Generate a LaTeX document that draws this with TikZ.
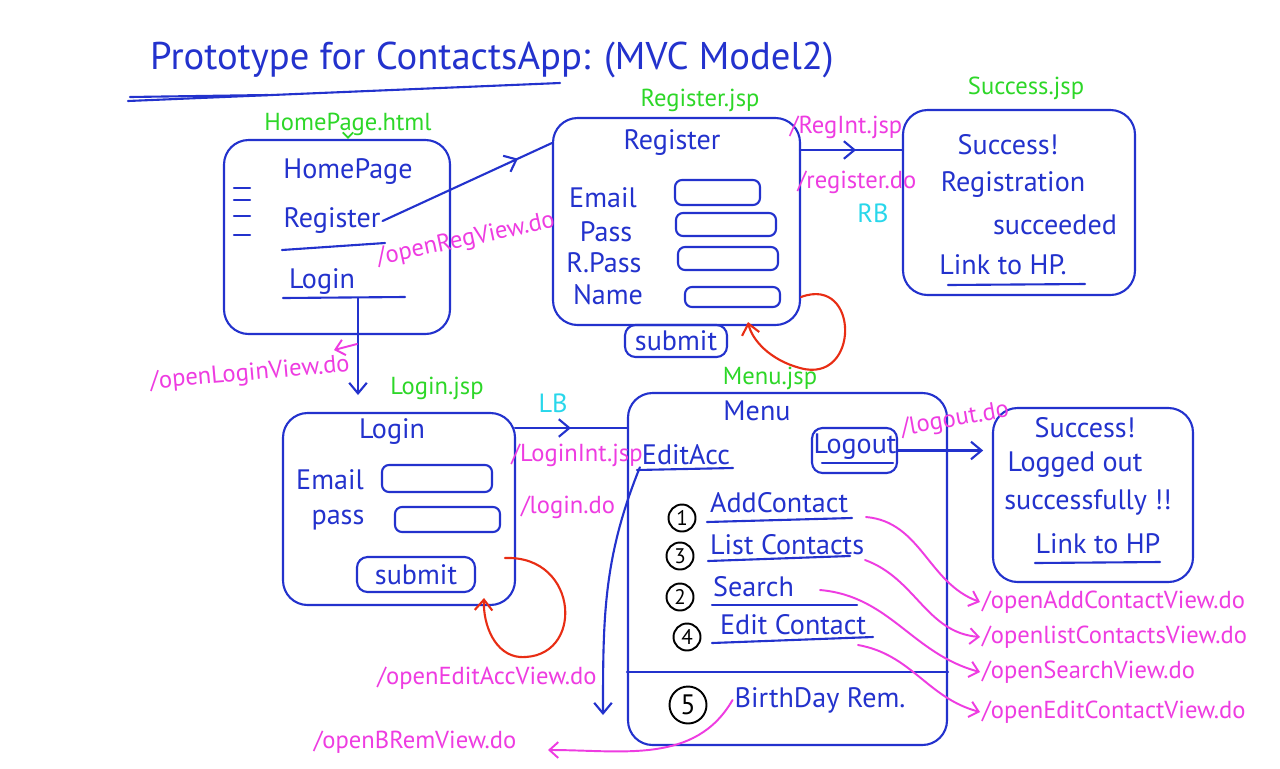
\documentclass[tikz,border=0pt]{standalone}
\usepackage{fontspec}
\setmainfont{PT Sans}
\usetikzlibrary{arrows.meta,decorations.markings,fit}

\definecolor{inkblue}{RGB}{35,50,205}
\definecolor{inkgreen}{RGB}{45,215,40}
\definecolor{inkpink}{RGB}{238,60,225}
\definecolor{inkcyan}{RGB}{40,215,235}
\definecolor{inkred}{RGB}{232,45,20}

\begin{document}
\begin{tikzpicture}[
        x=0.02cm, y=-0.02cm,
        line cap=round, line join=round,
        pen/.style={draw=inkblue, line width=1.2pt},
        page/.style={pen, rounded corners=14pt, inner sep=0pt},
        field/.style={pen, rounded corners=4pt, inner sep=0pt},
        btn/.style={pen, rounded corners=6pt, inner sep=0pt},
        hand/.style={text=inkblue, font=\fontsize{16}{19}\selectfont, inner sep=1pt},
        jsp/.style={text=inkgreen, font=\fontsize{14}{17}\selectfont, inner sep=1pt},
        url/.style={text=inkpink, font=\fontsize{14}{17}\selectfont, inner sep=1pt},
        bean/.style={text=inkcyan, font=\fontsize{15}{18}\selectfont, inner sep=1pt},
        num/.style={circle, draw=black, line width=1.1pt, text=black,
          font=\fontsize{12}{14}\selectfont, inner sep=0pt, minimum size=0.54cm},
        link/.style={pen, -{Straight Barb[length=6pt,width=10pt]}},
        sweep/.style={draw=inkpink, line width=1.1pt, -{Straight Barb[length=5pt,width=9pt]}},
        loop/.style={draw=inkred, line width=1.2pt, -{Straight Barb[length=6pt,width=10pt]}},
        midlink/.style={pen, postaction={decorate},
          decoration={markings,
            mark=at position #1 with {\arrow{Straight Barb[length=6pt,width=10pt]}}}},
        midlink/.default=0.6]
        % 画布
        \useasboundingbox[fill=white] (0,0) rectangle (1280,768);
        % 标题
        \node[hand, font=\fontsize{22}{26}\selectfont] (title) at (492,60)
          {Prototype for ContactsApp: (MVC Model2)};
        \draw[pen] (128,101) -- (560,83);
        \draw[pen] (130,97) -- (268,95);
        % 首页 HomePage.html
        \node[page, fit={(224,140) (450,334)}] (home) {};
        \node[jsp] (homefile) at (348,124) {HomePage.html};
        \draw[draw=inkgreen, line width=1pt, -{Straight Barb[length=3pt]}]
          (homefile.south) -- (home.north -| homefile.south);
        \node[hand] (hometitle) at (348,172) {HomePage};
        \foreach \y in {188,200,216,235}
          \draw[pen] (234,\y) -- (250,\y);
        \node[hand] (reglink) at (332,221) {Register};
        \draw[pen] (282,250) -- (385,243);
        \node[hand] (loginlink) at (322,282) {Login};
        \draw[pen] (283,298) -- (405,297);
        \coordinate (loginfoot) at (358,298);
        % 注册页 Register.jsp
        \node[page, fit={(553,118) (800,325)}] (regbox) {};
        \node[jsp] (regfile) at (700,100) {Register.jsp};
        \node[hand] (regtitle) at (672,143) {Register};
        \node[hand] (regemail) at (603,198) {Email};
        \node[field, fit={(675,180) (760,205)}] (regemailf) {};
        \node[hand] (regpass) at (606,232) {Pass};
        \node[field, fit={(676,213) (776,236)}] (regpassf) {};
        \node[hand] (regrpass) at (604,263) {R.Pass};
        \node[field, fit={(678,247) (778,270)}] (regrpassf) {};
        \node[hand] (regname) at (608,295) {Name};
        \node[field, fit={(685,287) (780,307)}] (regnamef) {};
        \node[btn, fit={(625,325) (727,357)}] (regsubmit) {};
        \node[hand] (regsubmittxt) at (regsubmit) {submit};
        % 成功页 Success.jsp
        \node[page, fit={(903,110) (1135,295)}] (okreg) {};
        \node[jsp] (okregfile) at (1026,88) {Success.jsp};
        \node[hand] (okregtitle) at (1008,145) {Success!};
        \node[hand] (okregmsg) at (1013,185) {Registration};
        \node[hand] (okregmsgb) at (1055,225) {succeeded};
        \node[hand] (okreghp) at (1003,265) {Link to HP.};
        \draw[pen] (948,285) -- (1085,284);
        % 首页 -> 注册页
        \draw[midlink=0.8] (reglink.east) -- (regtitle.west -| regbox.west);
        \node[url, rotate=12] (openreg) at (466,240) {/openRegView.do};
        % 注册页 -> 成功页
        \coordinate (regout) at (800,150);
        \draw[midlink=0.55] (regout) -- (regout -| okreg.west);
        \node[url] (regint) at (846,127) {/RegInt.jsp};
        \node[url] (regdo) at (857,182) {/register.do};
        \node[bean] (rb) at (873,213) {RB};
        \coordinate (regback) at (748,322);
        \draw[loop] (regbox.east |- regnamef) .. controls (860,275) and (860,385) .. (800,368)
          .. controls (770,360) and (752,340) .. (regback);
        % 登录页 Login.jsp
        \node[page, fit={(283,413) (515,605)}] (loginbox) {};
        \node[jsp] (loginfile) at (437,388) {Login.jsp};
        \node[hand] (logintitle) at (392,432) {Login};
        \node[hand] (loginemail) at (330,480) {Email};
        \node[field, fit={(382,465) (492,492)}] (loginemailf) {};
        \node[hand] (loginpass) at (338,520) {pass};
        \node[field, fit={(395,507) (500,532)}] (loginpassf) {};
        \node[btn, fit={(357,557) (475,592)}] (loginsubmit) {};
        \node[hand] (loginsubmittxt) at (loginsubmit) {submit};
        \coordinate (loginback) at (484,598);
        \draw[loop] (505,558) .. controls (580,555) and (585,660) .. (520,657)
          .. controls (495,655) and (483,625) .. (loginback);
        % 首页 -> 登录页
        \draw[link] (loginfoot) -- (loginfoot |- 0,395);
        \node[url, rotate=5] (openlogin) at (250,374) {/openLoginView.do};
        \coordinate (loginhint) at (334,350);
        \draw[sweep] (357,344) -- (loginhint);
        % 菜单页 Menu.jsp
        \node[page, fit={(628,393) (947,745)}] (menubox) {};
        \node[jsp] (menufile) at (770,378) {Menu.jsp};
        \node[hand] (menutitle) at (757,411) {Menu};
        \draw[pen] (menubox.west |- 0,672) -- (menubox.east |- 0,672);
        \node[hand] (editacc) at (686,455) {EditAcc};
        \draw[pen] (637,470) -- (733,468);
        \node[btn, fit={(812,428) (897,473)}] (logoutbtn) {};
        \node[hand] (logout) at (855,447) {Logout};
        \draw[pen] (822,463) -- (893,463);
        % 登录页 -> 菜单页
        \coordinate (lbout) at (515,428);
        \draw[midlink=0.5] (lbout) -- (lbout -| menubox.west);
        \node[bean] (lb) at (553,403) {LB};
        \node[url] (loginint) at (577,455) {/LoginInt.jsp};
        \node[url] (logindo) at (568,507) {/login.do};
        % 菜单项
        \node[num] (n1) at (682,518) {1};
        \node[hand, anchor=west] (addc) at (708,503) {AddContact};
        \draw[pen] (707,522) -- (852,518);
        \node[num] (n3) at (680,556) {3};
        \node[hand, anchor=west] (listc) at (708,545) {List Contacts};
        \draw[pen] (708,561) -- (850,556);
        \node[num] (n2) at (680,597) {2};
        \node[hand, anchor=west] (search) at (711,587) {Search};
        \draw[pen] (712,605) -- (857,605);
        \node[num] (n4) at (687,637) {4};
        \node[hand, anchor=west] (editc) at (718,625) {Edit Contact};
        \draw[pen] (712,643) -- (873,637);
        \node[num, minimum size=0.74cm, font=\fontsize{16}{19}\selectfont] (n5) at (688,705) {5};
        \node[hand] (bday) at (820,700) {BirthDay Rem.};
        % 退出成功页
        \node[page, fit={(993,408) (1193,582)}] (okout) {};
        \node[hand] (okouttitle) at (1085,428) {Success!};
        \node[hand] (okoutmsg) at (1075,465) {Logged out};
        \node[hand] (okoutmsgb) at (1088,502) {successfully !!};
        \node[hand] (okouthp) at (1098,544) {Link to HP};
        \draw[pen] (1035,563) -- (1160,562);
        % 退出 -> 退出成功页
        \draw[link, shorten >=5pt] (logoutbtn.east) -- (okout.west |- logoutbtn.east);
        \node[url, rotate=10] (logoutdo) at (955,420) {/logout.do};
        % 菜单项请求
        \node[url, anchor=west] (addview) at (980,602) {/openAddContactView.do};
        \node[url, anchor=west] (listview) at (980,637) {/openlistContactsView.do};
        \node[url, anchor=west] (searchview) at (980,672) {/openSearchView.do};
        \node[url, anchor=west] (editview) at (980,712) {/openEditContactView.do};
        \draw[sweep] (866,517) to[out=-5,in=160] (addview.west);
        \draw[sweep] (865,560) to[out=-20,in=175] (listview.west);
        \draw[sweep] (820,590) to[out=-5,in=165] (searchview.west);
        \draw[sweep] (858,645) to[out=-10,in=165] (editview.west);
        % 编辑账户, 生日提醒
        \coordinate (eaend) at (603,715);
        \draw[link] (editacc.south west) to[out=-112,in=90] (eaend);
        \node[url] (openea) at (487,678) {/openEditAccView.do};
        \coordinate (bremend) at (548,750);
        \draw[sweep] (bday.west) to[out=-120,in=0] (bremend);
        \node[url] (openbrem) at (415,742) {/openBRemView.do};
      \end{tikzpicture}
\end{document}
